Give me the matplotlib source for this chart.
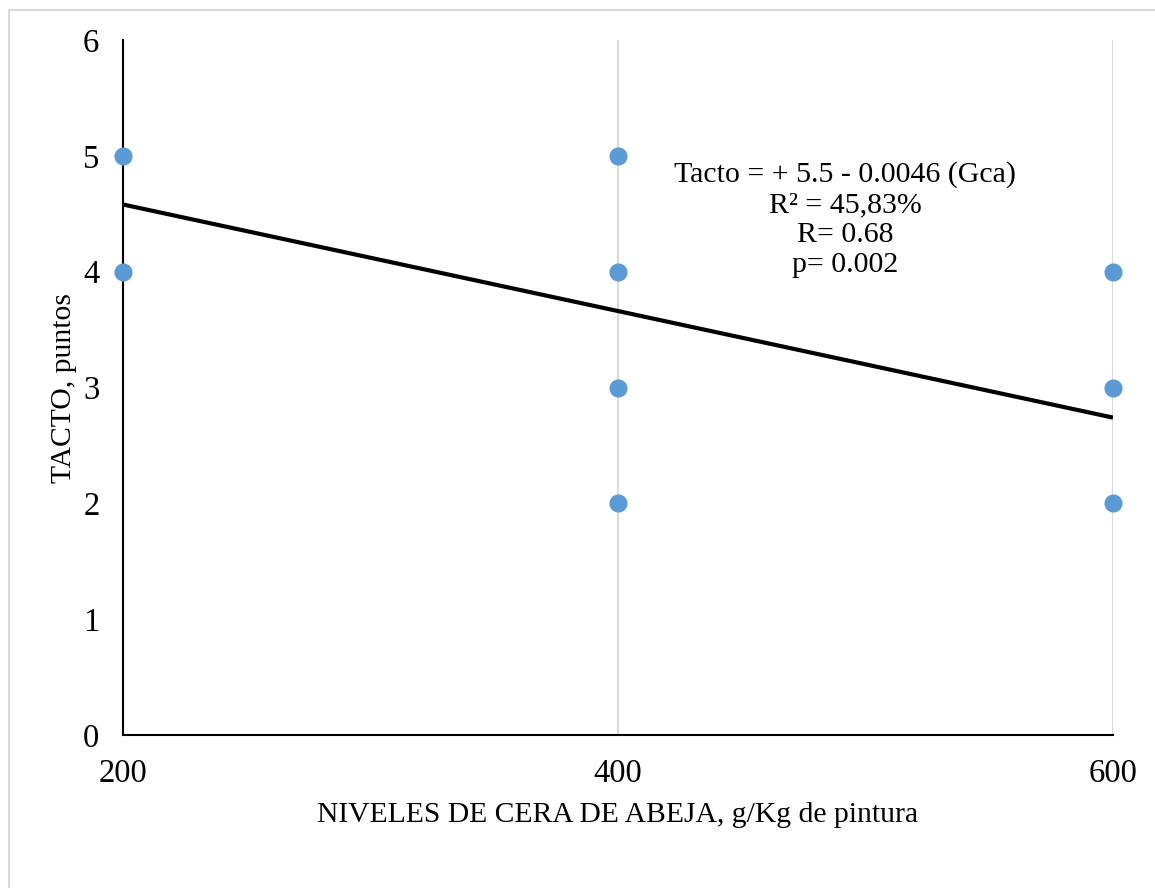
import matplotlib.pyplot as plt
from matplotlib.patches import Rectangle

plt.rcParams['font.family'] = ['Liberation Serif', 'DejaVu Serif']

# observed points (TACTO score per wax level)
niveles = [200, 200, 400, 400, 400, 400, 600, 600, 600]
tacto = [5, 4, 5, 4, 3, 2, 4, 3, 2]

# fitted line from the equation shown on the chart
intercepto = 5.5
pendiente = -0.0046
x_linea = [200, 600]

x_ticks = [200, 400, 600]
y_ticks = [0, 1, 2, 3, 4, 5, 6]

lineas_texto = ["Tacto = + 5.5 - 0.0046 (Gca)", "R² = 45,83%", "R= 0.68", "p= 0.002"]

fig = plt.figure(figsize=(11.55, 8.88), dpi=100)
ax = fig.add_axes([123 / 1155, 1 - 735 / 888, (1113 - 123) / 1155, (735 - 40) / 888])

# light frame around the chart (only top/left visible in the original)
fig.patches.append(Rectangle((9 / 1155, -0.1), 1.2, 1 - 10 / 888 + 0.1,
                             transform=fig.transFigure, fill=False,
                             edgecolor='#d9d9d9', linewidth=1.5))

ax.set_xlim(200, 600)
ax.set_ylim(0, 6)
ax.set_xticks(x_ticks)
ax.set_yticks(y_ticks)
ax.grid(axis='x', color='#d9d9d9', linewidth=1.5)
ax.set_axisbelow(True)

for s in ['top', 'right']:
    ax.spines[s].set_visible(False)
for s in ['left', 'bottom']:
    ax.spines[s].set_color('black')
    ax.spines[s].set_linewidth(1.5)
    ax.spines[s].set_zorder(1)

ax.tick_params(length=0, labelsize=23.5, pad=17)

y_linea = [intercepto + pendiente * x for x in x_linea]
ax.plot(x_linea, y_linea, color='black', linewidth=3, zorder=3, solid_capstyle='butt')
ax.scatter(niveles, tacto, s=145, color='#5b9bd5', zorder=4, clip_on=False)

# equation box, one line every 30 px
for i, linea in enumerate(lineas_texto):
    fig.text(845 / 1155, 1 - (182 + 30 * i) / 888, linea, ha='center', va='baseline',
             fontsize=21.5)

ax.set_xlabel("NIVELES DE CERA DE ABEJA, g/Kg de pintura", fontsize=21.3, labelpad=9)
ax.set_ylabel("TACTO, puntos", fontsize=21.3, labelpad=4)

fig.savefig("out.png", dpi=100)
